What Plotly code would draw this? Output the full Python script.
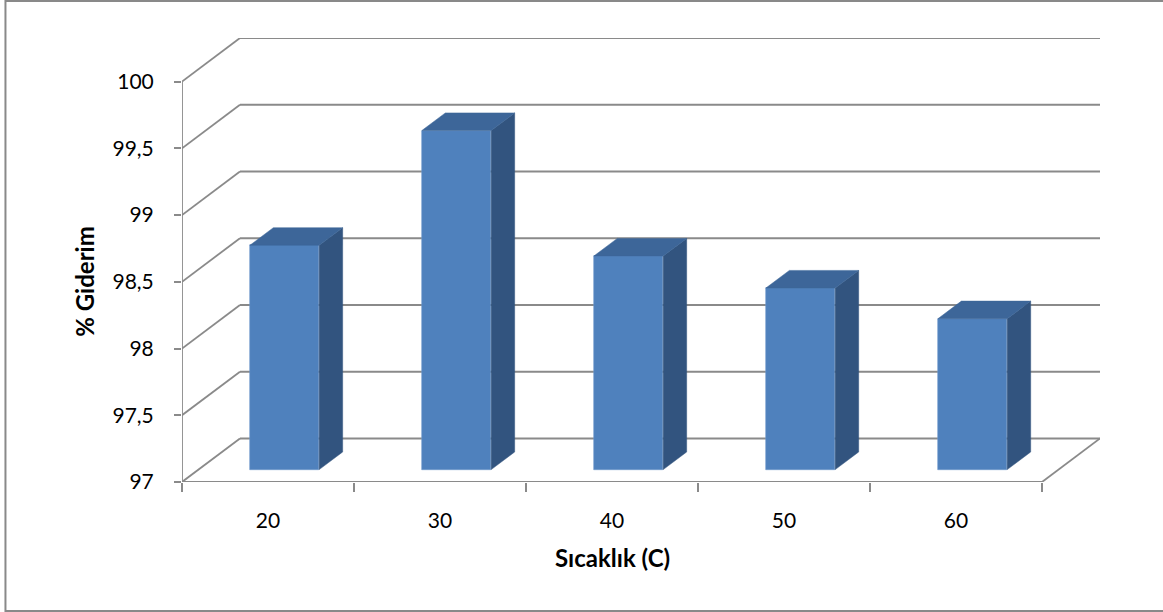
import plotly.graph_objects as go

# Data
categories = ["20", "30", "40", "50", "60"]
removal = [98.68, 99.54, 98.60, 98.36, 98.13]
y_ticks = [97, 97.5, 98, 98.5, 99, 99.5, 100]
y_tick_text = ["97", "97,5", "98", "98,5", "99", "99,5", "100"]

# Pseudo-3D geometry (in data units)
Y0, Y1 = 97, 100
DX, DY = 0.337, 0.326          # full depth of the box
F1, F2 = 0.285, 0.69           # bar depth span (front / back fraction)
BAR_W = 0.403

FRONT = "#4F81BD"
TOP = "#3D6699"
SIDE = "#32547F"
GRID = "#8A8A8A"
FONT = "Lato"

n = len(categories)
xs = list(range(n))

fig = go.Figure()

# Front faces of the columns
fig.add_trace(go.Bar(
    x=[i + DX * F1 for i in xs],
    y=[v - Y0 for v in removal],
    base=[Y0 + DY * F1] * n,
    width=BAR_W,
    marker=dict(color=FRONT, line=dict(color="#6F97CB", width=0.6)),
    hoverinfo="skip",
    showlegend=False,
))

# Side and top faces
ddx, ddy = DX * (F2 - F1), DY * (F2 - F1)
for i, v in zip(xs, removal):
    xl = i + DX * F1 - BAR_W / 2
    xr = i + DX * F1 + BAR_W / 2
    b = Y0 + DY * F1
    t = v + DY * F1
    fig.add_trace(go.Scatter(
        x=[xr, xr + ddx, xr + ddx, xr, xr],
        y=[b, b + ddy, t + ddy, t, b],
        fill="toself", fillcolor=SIDE, mode="lines",
        line=dict(color=SIDE, width=0.5),
        hoverinfo="skip", showlegend=False,
    ))
    fig.add_trace(go.Scatter(
        x=[xl, xr, xr + ddx, xl + ddx, xl],
        y=[t, t, t + ddy, t + ddy, t],
        fill="toself", fillcolor=TOP, mode="lines",
        line=dict(color=TOP, width=0.5),
        hoverinfo="skip", showlegend=False,
    ))

# Walls, floor and gridlines
shapes = []
xL, xR = -0.5, n - 0.5
for v in y_ticks:
    shapes.append(dict(type="line", x0=xL, y0=v, x1=xL + DX, y1=v + DY,
                       line=dict(color=GRID, width=1.8), layer="below"))
    shapes.append(dict(type="line", x0=xL + DX, y0=v + DY, x1=xR + DX, y1=v + DY,
                       line=dict(color=GRID, width=1.8), layer="below"))
# left axis line and front floor edge
shapes.append(dict(type="line", x0=xL, y0=Y0, x1=xL, y1=Y1,
                   line=dict(color=GRID, width=1.8), layer="below"))
shapes.append(dict(type="line", x0=xL, y0=Y0, x1=xR, y1=Y0,
                   line=dict(color=GRID, width=1.8), layer="below"))
shapes.append(dict(type="line", x0=xR, y0=Y0, x1=xR + DX, y1=Y0 + DY,
                   line=dict(color=GRID, width=1.8), layer="below"))
# chart frame
shapes.append(dict(type="rect", xref="paper", yref="paper",
                   x0=-0.1923, y0=-0.2905, x1=1.1, y1=1.0833,
                   line=dict(color="#898989", width=2), layer="below"))

fig.update_layout(
    width=1163, height=612,
    margin=dict(l=182, r=63, t=38, b=130),
    paper_bgcolor="white", plot_bgcolor="white",
    font=dict(family=FONT, size=21, color="black"),
    shapes=shapes,
    bargap=0,
    xaxis=dict(
        range=[xL, xR + DX], showgrid=False, zeroline=False, showline=False,
        tickvals=xs, ticktext=categories, ticks="",
        ticklabelstandoff=24,
        minor=dict(tickvals=[x - 0.5 for x in range(n + 1)], ticks="outside",
                   ticklen=9, tickcolor=GRID, tickwidth=1.8, showgrid=False),
        fixedrange=True,
    ),
    yaxis=dict(
        range=[Y0, Y1 + DY], showgrid=False, zeroline=False, showline=False,
        tickvals=y_ticks, ticktext=y_tick_text, ticks="outside",
        ticklen=7, tickcolor=GRID, tickwidth=1.8,
        ticklabelstandoff=16,
        fixedrange=True,
    ),
    annotations=[
        dict(text="<b>% Giderim</b>", textangle=-90, xref="paper", yref="y",
             x=(85 - 182) / 918, y=(Y0 + Y1) / 2, xanchor="center",
             yanchor="middle", showarrow=False,
             font=dict(size=24, family=FONT)),
        dict(text="<b>Sıcaklık (C)</b>", xref="x", yref="paper",
             x=(xL + xR) / 2, y=(482 - 557) / 444, xanchor="center",
             yanchor="middle", showarrow=False,
             font=dict(size=24, family=FONT)),
    ],
)

fig.write_html("out.html")
